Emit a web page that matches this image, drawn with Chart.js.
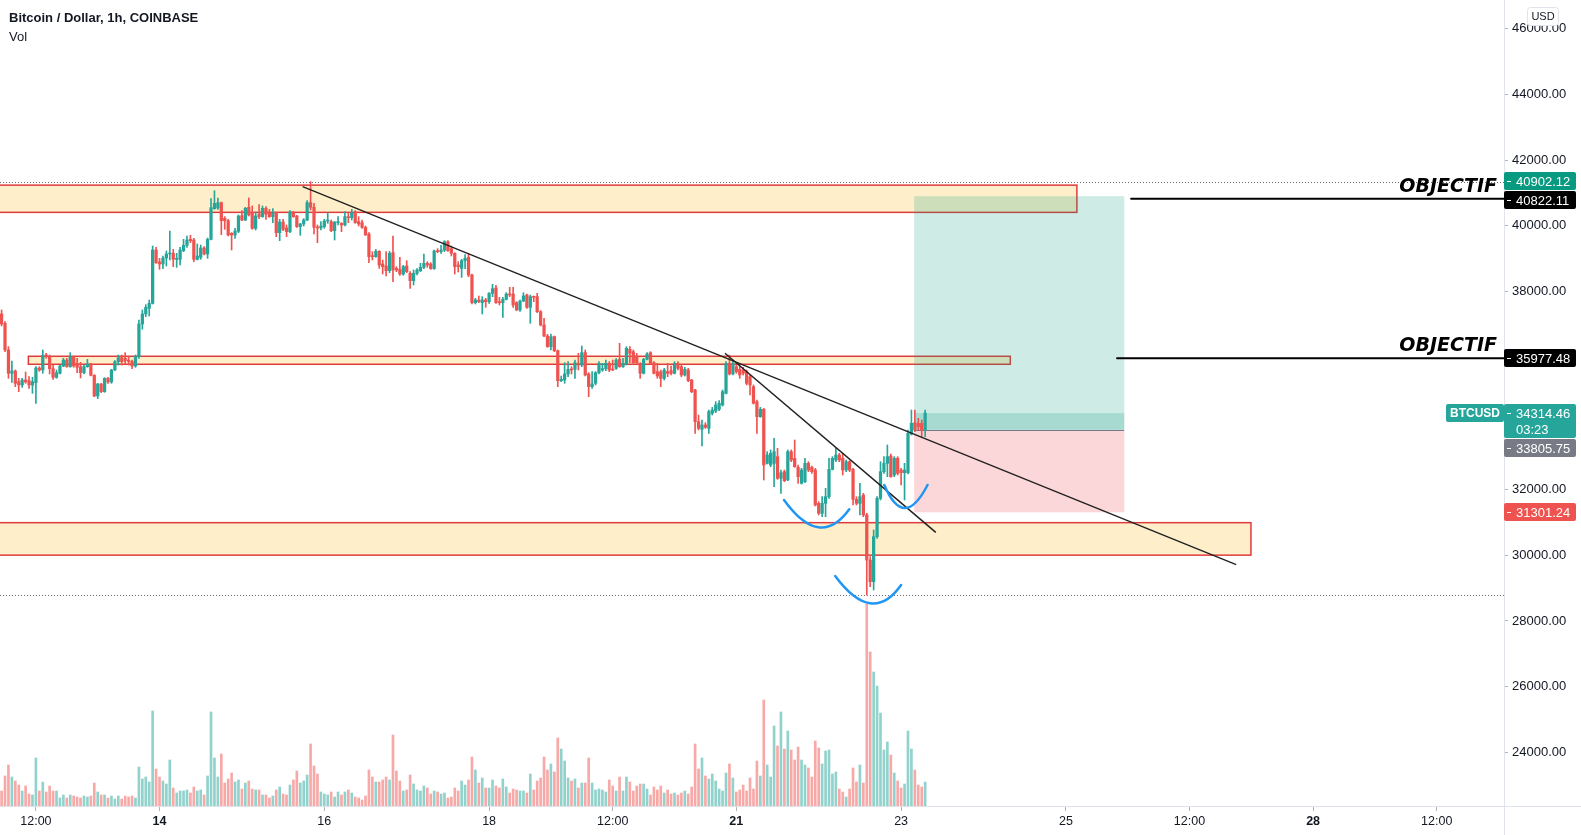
<!DOCTYPE html>
<html>
<head>
<meta charset="utf-8">
<script src="https://cdn.jsdelivr.net/npm/chart.js@4.4.0/dist/chart.umd.min.js"></script>
<style>
  html, body { margin: 0; padding: 0; background: #fff; overflow: hidden; }
  canvas { display: block; }
</style>
</head>
<body>
<canvas id="btc" width="1581" height="835"></canvas>
<script>
// hours counted from 14 Jan 00:00, one candle per hour
const startHour = -46;

const open = [
  37325,37041,36231,35523,35593,35269,35168,35320,35300,35168,
  35239,35684,35624,36079,36029,35664,35401,35523,35745,35927,
  35725,36029,35826,35725,35543,35725,35806,35462,34834,35198,
  34966,35371,35259,35624,35877,35998,35978,35907,35887,35745,
  36029,37021,37325,37497,37648,39268,38904,38843,39025,39147,
  39167,38985,38985,39248,39410,39592,39572,38985,39046,39329,
  39147,39592,40524,40544,40706,40230,40159,39775,39724,39835,
  40311,40179,40564,40402,39926,40362,40281,40534,40382,40281,
  40402,39795,40119,39936,39825,40402,40301,39977,40058,40179,
  40706,40564,39957,39936,39977,40149,
  40129,39855,40098,40078,40028,40281,40250,40433,40129,40098,
  39957,39754,39086,39066,39228,38843,38782,38640,39187,38711,
  38681,38539,38782,38560,38337,38560,38640,38742,38863,38843,
  38701,39248,39218,39268,39521,39309,39167,38813,38711,38944,
  39046,38509,37669,37750,37669,37750,37699,37952,38114,37699,
  37669,37770,37932,37932,37669,37446,37719,37901,37527,37851,
  37851,37395,36990,36656,36332,36636,36211,35300,35320,35502,
  35644,35644,35826,35775,36150,35502,35117,35219,35543,35624,
  35664,35826,35644,35674,35948,35725,35806,36251,36180,36029,
  35826,35523,35948,36150,35846,35573,
  35573,35370,35573,35603,35522,35826,35725,35471,35623,35319,
  35016,34054,33821,33953,33851,34307,34378,34428,34560,34915,
  35826,35502,35725,35643,35623,35573,35421,35117,34661,34206,
  34428,32788,32738,32788,32991,32333,32535,32282,33143,32940,
  32667,32181,32232,32788,32667,32586,31574,31270,31574,31776,
  32606,32890,33042,32940,32586,32839,32606,31695,31574,31827,
  31219,29852,29194,30561,31726,32535,32788,33011,32434,32940,
  32586,32505,32505,33679,34024,34004,34004,33801
];
const high = [
  37446,37092,36332,35897,35624,35371,35371,35563,35421,35401,
  35725,35725,36231,36130,36079,35775,35624,35775,35978,35978,
  36150,36049,35978,35856,35775,35948,35826,35482,35219,35219,
  35391,35401,35644,35907,36079,36079,36150,36029,35927,36079,
  37142,37446,37608,37750,39390,39349,39015,39086,39238,39845,
  39288,39167,39349,39592,39694,39714,39623,39450,39420,39369,
  39633,40827,41070,40848,40726,40281,40200,39795,39926,40331,
  40463,40564,40848,40605,40422,40645,40605,40584,40503,40524,
  40422,40200,40200,40028,40463,40443,40321,40078,40220,40767,
  41344,40686,40028,40129,40200,40402,
  40179,40129,40281,40098,40433,40402,40503,40463,40281,40179,
  39997,39795,39218,39288,39248,38965,39218,39228,39694,38762,
  39046,38803,38944,38610,38661,38701,38863,39147,38914,38884,
  39268,39309,39410,39552,39552,39390,39187,38914,38985,39126,
  39147,38539,37800,37871,37851,37800,37972,38225,38195,37831,
  37831,37972,38134,38134,37699,37750,37972,37932,37901,37871,
  37952,37426,37193,36707,36717,36656,36231,35441,35846,35877,
  35725,35927,36130,36352,36231,35543,35573,35573,35877,35826,
  35927,35877,35927,35968,36434,35978,36332,36332,36231,36130,
  35846,35978,36150,36180,35877,35826,
  35623,35674,35826,35745,35876,35876,35775,35704,35674,35340,
  35036,34256,34105,34024,34408,34489,34661,34692,35016,35876,
  36079,35927,35826,35745,35704,35623,35471,35168,34712,34489,
  34459,33143,33194,33548,33244,32586,32586,33194,33194,33497,
  32738,32636,32940,32839,32707,32636,31624,31776,32029,32940,
  32991,33244,33092,33092,32890,32869,32636,31776,32181,31877,
  31270,29954,30764,31776,32839,32991,33345,33072,32991,32991,
  32636,32788,33801,34408,34408,34155,34105,34408
];
const low = [
  36960,36180,35371,35249,35117,34966,35097,35219,35067,34915,
  34611,35583,35523,35978,35502,35340,35371,35502,35725,35705,
  35705,35705,35543,35381,35502,35705,35441,34814,34753,34935,
  34945,35219,35219,35603,35775,35775,35806,35775,35664,35705,
  35978,36859,37243,37264,37628,38863,38681,38701,38782,38965,
  38762,38742,38813,39218,39349,39491,38914,38965,38985,39116,
  39015,39572,40503,40503,39734,39896,39694,39268,39623,39795,
  40159,40159,40301,39896,39876,40220,40260,40200,40260,40098,
  39673,39552,39855,39673,39795,40260,39957,39714,39997,40159,
  40483,39754,39491,39876,39926,40078,
  39825,39572,40028,39825,39997,40098,40179,40078,39997,39926,
  39714,38884,38965,39046,38711,38540,38479,38580,38306,38610,
  38499,38499,38580,38104,38205,38509,38610,38701,38742,38681,
  38681,39187,39167,39218,39228,39086,38540,38600,38438,38701,
  38458,37628,37628,37669,37325,37527,37648,37851,37648,37598,
  37223,37750,37851,37527,37426,37406,37699,37497,37041,37699,
  37365,36960,36636,36312,36231,36180,35117,35269,35219,35421,
  35502,35371,35624,35725,35441,34814,35067,35168,35502,35583,
  35603,35573,35603,35644,35705,35705,35775,35846,35826,35806,
  35371,35502,35927,35806,35502,35371,
  35117,35320,35421,35471,35502,35623,35421,35441,35269,34935,
  33700,33801,33315,33851,33700,34257,34327,34388,34530,34894,
  35471,35471,35522,35370,35471,35168,34864,34590,33700,34186,
  32282,32768,32687,32080,32302,31877,32232,32262,32839,32667,
  32181,32161,32201,32535,32485,31493,31219,31169,31169,31726,
  32586,32839,32839,32434,32535,32535,31523,31523,31219,31169,
  28789,29042,28941,30510,31675,32485,32383,32363,32383,32434,
  32130,31675,32464,33649,33750,33801,33598,33598
];
const close = [
  37021,36231,35523,35593,35219,35168,35320,35259,35168,35269,
  35684,35624,36069,36029,35664,35401,35543,35745,35927,35725,
  36029,35745,35705,35543,35725,35806,35462,34834,35198,34966,
  35371,35259,35624,35877,35998,35877,35907,35887,35745,36029,
  37021,37325,37527,37648,39268,38883,38843,39025,39147,39167,
  38985,39015,39268,39410,39572,39552,38985,39086,39329,39147,
  39592,40554,40686,40706,40159,40159,39724,39724,39845,40301,
  40179,40534,40331,39926,40301,40281,40534,40352,40281,40402,
  39795,40119,39896,39825,40422,40281,39977,40058,40179,40706,
  40564,39957,39936,39997,40149,40159,
  39855,40119,40129,40028,40281,40250,40402,40098,40058,39957,
  39724,39066,39066,39228,38813,38762,38640,39167,38661,38661,
  38539,38762,38610,38337,38560,38661,38742,38863,38813,38701,
  39238,39218,39268,39521,39248,39167,38762,38762,38944,39015,
  38509,37669,37750,37699,37750,37699,37952,38094,37669,37669,
  37770,37932,37901,37598,37446,37719,37871,37527,37851,37831,
  37395,36990,36656,36332,36636,36211,35300,35340,35502,35644,
  35624,35846,35775,36150,35472,35117,35198,35543,35826,35664,
  35826,35624,35624,35927,35725,35826,36282,36130,35846,35846,
  35523,35948,36110,35826,35523,35441,
  35370,35623,35522,35522,35826,35674,35471,35643,35299,34965,
  34054,33851,33953,33882,34358,34408,34560,34611,34965,35826,
  35502,35826,35573,35471,35522,35218,35168,34611,34206,34428,
  32738,33042,33092,33143,32333,32505,32262,33143,32890,32687,
  32383,32586,32788,32586,32535,31523,31270,31574,31776,32606,
  32940,33042,32890,32586,32839,32586,31695,31574,31776,31219,
  29852,29194,30561,31726,32535,32788,32991,32383,32940,32485,
  32505,32586,33700,34004,33801,33902,33801,34314.46
];
const volume = [
  15,30,41,29,25,21,15,20,12,11,
  48,15,24,14,20,15,15,8,11,8,
  11,10,9,8,10,9,10,23,14,11,
  11,8,10,7,10,7,10,9,10,8,
  39,27,29,24,95,37,29,25,22,46,
  18,13,15,15,16,13,19,15,16,11,
  30,94,48,29,52,23,27,33,24,26,
  17,23,25,17,16,16,11,11,8,10,
  16,19,12,11,21,26,35,23,25,31,
  62,40,32,14,12,11,14,9,14,11,
  14,16,13,9,8,6,10,36,29,24,
  24,26,29,26,71,35,25,15,16,31,
  22,16,15,20,18,12,15,14,12,13,
  8,9,18,15,
  25,21,26,49,36,23,28,18,18,26,
  20,18,27,19,13,17,16,15,15,13,
  32,16,25,28,49,36,42,34,68,57,
  45,28,25,27,18,23,23,48,23,16,
  17,16,14,26,20,15,29,15,29,24,
  15,20,22,22,17,11,19,16,20,13,
  16,12,13,11,13,15,12,19,62,37,
  48,30,27,32,25,17,15,33,42,28,
  14,16,21,15,28,17,45,30,106,41,
  29,80,60,94,57,75,56,46,59,46,
  41,38,29,65,58,42,55,56,32,34,
  17,14,9,17,38,24,41,23,202,154,
  134,120,93,56,64,51,33,25,18,22,
  75,57,36,21,19,24
];

// axes
const hourRange = [-46.46, 391.6];
const priceRange = [22381, 46861];
const volumeMax = 806;
const xTickHours = [-36, 0, 48, 96, 132, 168, 216, 264, 300, 336, 372];
const xTickLabels = ["12:00", "14", "16", "18", "12:00", "21", "23", "25", "12:00", "28", "12:00"];
const boldXTicks = ["14", "21", "28"];
const priceTicks = [24000, 26000, 28000, 30000, 32000, 38000, 40000, 42000, 44000, 46000];

// drawings, in hours / price
const zones = [
  { from: -60, to: 267.2, top: 41238, bottom: 40411 },
  { from: -38.2, to: 247.8, top: 36040, bottom: 35797 },
  { from: -60, to: 317.9, top: 30986, bottom: 30000 }
];
const trendLines = [
  [[41.7, 41192], [313.6, 29713]],
  [[164.7, 36131], [226.1, 30691]]
];
const arcs = [
  [[181.9, 31675], [191.9, 30846], [200.9, 31392]],
  [[196.8, 29367], [207.0, 28538], [216.0, 29094]],
  [[211.1, 32131], [217.1, 31432], [223.7, 32131]]
];
const position = { from: 219.8, to: 281.0, entry: 33805.75, target: 40902.12, stop: 31301.24 };
const lastPrice = 34314.46;
const objectifs = [
  { price: 40822.11, from: 283.0 },
  { price: 35977.48, from: 278.9 }
];
const axisLabels = [
  { text: "40902.12", price: 40902.12, bg: "#089981", shift: -15 },
  { text: "40822.11", price: 40822.11, bg: "#000000", shift: 1 },
  { text: "35977.48", price: 35977.48, bg: "#000000", shift: 0 },
  { text: "33805.75", price: 33805.75, bg: "#787b86", shift: 18 },
  { text: "31301.24", price: 31301.24, bg: "#ef5350", shift: 0 }
];

const FONT = '"Liberation Sans", Arial, sans-serif';
Chart.defaults.font.family = FONT;

const hours = close.map((c, i) => startHour + i);
const rising = close.map((c, i) => c >= open[i]);
const candleColor = rising.map(r => r ? "#26a69a" : "#ef5350");
const volColor = rising.map(r => r ? "rgba(38,166,154,0.5)" : "rgba(239,83,80,0.5)");

function box(ctx, x, y, w, h, r) {
  ctx.beginPath();
  ctx.moveTo(x + r, y);
  ctx.arcTo(x + w, y, x + w, y + h, r);
  ctx.arcTo(x + w, y + h, x, y + h, r);
  ctx.arcTo(x, y + h, x, y, r);
  ctx.arcTo(x, y, x + w, y, r);
  ctx.closePath();
}

const drawings = {
  id: "drawings",
  beforeDatasetsDraw(chart) {
    const { ctx, chartArea: a } = chart;
    const X = v => chart.scales.x.getPixelForValue(v);
    const Y = v => chart.scales.y.getPixelForValue(v);
    ctx.save();
    ctx.beginPath();
    ctx.rect(a.left, a.top, a.right - a.left, a.bottom - a.top);
    ctx.clip();

    // high / low of the visible range
    ctx.strokeStyle = "#6a6d78";
    ctx.lineWidth = 1;
    ctx.setLineDash([1, 2]);
    [Math.max(...high), Math.min(...low)].forEach(p => {
      const y = Math.round(Y(p)) + 0.5;
      ctx.beginPath();
      ctx.moveTo(a.left, y);
      ctx.lineTo(a.right, y);
      ctx.stroke();
    });
    ctx.setLineDash([]);

    // zones
    zones.forEach(z => {
      const x0 = X(z.from), x1 = X(z.to), y0 = Y(z.top), y1 = Y(z.bottom);
      ctx.fillStyle = "rgba(251,192,45,0.25)";
      ctx.fillRect(x0, y0, x1 - x0, y1 - y0);
      ctx.strokeStyle = "#e03b3b";
      ctx.lineWidth = 1.5;
      ctx.strokeRect(x0, y0, x1 - x0, y1 - y0);
    });

    // long position
    const p0 = X(position.from), p1 = X(position.to);
    const yT = Y(position.target), yE = Y(position.entry), yS = Y(position.stop), yC = Y(lastPrice);
    ctx.fillStyle = "rgba(8,153,129,0.2)";
    ctx.fillRect(p0, yT, p1 - p0, yE - yT);
    ctx.fillRect(p0, yC, p1 - p0, yE - yC);
    ctx.fillStyle = "rgba(242,54,69,0.2)";
    ctx.fillRect(p0, yE, p1 - p0, yS - yE);
    ctx.strokeStyle = "#787b86";
    ctx.lineWidth = 1;
    ctx.beginPath();
    ctx.moveTo(p0, Math.round(yE) + 0.5);
    ctx.lineTo(p1, Math.round(yE) + 0.5);
    ctx.stroke();
    ctx.restore();
  },

  afterDatasetsDraw(chart) {
    const { ctx, chartArea: a } = chart;
    const X = v => chart.scales.x.getPixelForValue(v);
    const Y = v => chart.scales.y.getPixelForValue(v);
    ctx.save();
    ctx.beginPath();
    ctx.rect(a.left, a.top, a.right - a.left, a.bottom - a.top);
    ctx.clip();

    // trend lines
    ctx.strokeStyle = "#222";
    ctx.lineWidth = 1.5;
    trendLines.forEach(([s, e]) => {
      ctx.beginPath();
      ctx.moveTo(X(s[0]), Y(s[1]));
      ctx.lineTo(X(e[0]), Y(e[1]));
      ctx.stroke();
    });

    // hand drawn arcs
    ctx.strokeStyle = "#2196f3";
    ctx.lineWidth = 2.5;
    ctx.lineCap = "round";
    arcs.forEach(([s, m, e]) => {
      const sx = X(s[0]), sy = Y(s[1]), mx = X(m[0]), my = Y(m[1]), ex = X(e[0]), ey = Y(e[1]);
      const cx = 2 * mx - (sx + ex) / 2, cy = 2 * my - (sy + ey) / 2;
      ctx.beginPath();
      ctx.moveTo(sx, sy);
      ctx.quadraticCurveTo(cx, cy, ex, ey);
      ctx.stroke();
    });

    // objectives
    objectifs.forEach(o => {
      const y = Y(o.price);
      ctx.strokeStyle = "#000";
      ctx.lineWidth = 2;
      ctx.beginPath();
      ctx.moveTo(X(o.from), y);
      ctx.lineTo(a.right, y);
      ctx.stroke();
      ctx.fillStyle = "#000";
      ctx.font = 'italic bold 19px "DejaVu Sans"';
      ctx.textAlign = "right";
      ctx.textBaseline = "alphabetic";
      ctx.fillText("OBJECTIF", a.right - 7, y - 7);
    });
    ctx.restore();
  },

  afterDraw(chart) {
    const { ctx, chartArea: a } = chart;
    const Y = v => chart.scales.y.getPixelForValue(v);
    ctx.save();

    // axis separators
    ctx.strokeStyle = "#e0e3eb";
    ctx.lineWidth = 1;
    ctx.beginPath();
    ctx.moveTo(a.right + 0.5, 0);
    ctx.lineTo(a.right + 0.5, 835);
    ctx.moveTo(0, a.bottom + 0.5);
    ctx.lineTo(1581, a.bottom + 0.5);
    ctx.stroke();

    // price boxes on the axis
    ctx.font = "13px " + FONT;
    ctx.textBaseline = "middle";
    ctx.textAlign = "left";
    const bx = a.right, bw = 72;
    axisLabels.forEach(l => {
      const yc = Math.round(Y(l.price) + l.shift);
      ctx.fillStyle = l.bg;
      box(ctx, bx, yc - 9, bw, 18, 2);
      ctx.fill();
      ctx.fillStyle = "#fff";
      ctx.fillRect(bx + 3, yc, 4, 1);
      ctx.fillText(l.text, bx + 12, yc + 1);
    });

    // last price
    const yl = Math.round(Y(lastPrice));
    ctx.fillStyle = "#26a69a";
    box(ctx, bx, yl - 9, bw, 34, 2);
    ctx.fill();
    box(ctx, 1446, yl - 9, bx - 1446, 18, 2);
    ctx.fill();
    ctx.fillStyle = "#fff";
    ctx.fillRect(bx + 3, yl, 4, 1);
    ctx.fillText(lastPrice.toFixed(2), bx + 12, yl + 1);
    ctx.fillText("03:23", bx + 12, yl + 17);
    ctx.font = "bold 12px " + FONT;
    ctx.textAlign = "center";
    ctx.fillText("BTCUSD", (1446 + bx) / 2, yl + 1);

    // USD button
    ctx.fillStyle = "#fff";
    box(ctx, 1527.5, 7.5, 31, 18, 3);
    ctx.fill();
    ctx.strokeStyle = "#e0e3eb";
    ctx.stroke();
    ctx.fillStyle = "#131722";
    ctx.font = "11px " + FONT;
    ctx.fillText("USD", 1543, 17);

    // legend
    ctx.textAlign = "left";
    ctx.textBaseline = "alphabetic";
    ctx.fillStyle = "#131722";
    ctx.font = "bold 13px " + FONT;
    ctx.fillText("Bitcoin / Dollar, 1h, COINBASE", 9, 22);
    ctx.font = "13px " + FONT;
    ctx.fillText("Vol", 9, 41);
    ctx.restore();
  }
};

new Chart(document.getElementById("btc"), {
  type: "bar",
  data: {
    datasets: [
      {
        label: "Vol",
        data: hours.map((h, i) => ({ x: h, y: volume[i] })),
        yAxisID: "yv",
        backgroundColor: volColor,
        barThickness: 2,
        grouped: false,
        order: 3
      },
      {
        label: "wick",
        data: hours.map((h, i) => ({ x: h, y: [low[i], high[i]] })),
        yAxisID: "y",
        backgroundColor: candleColor,
        barThickness: 1,
        grouped: false,
        order: 2
      },
      {
        label: "body",
        data: hours.map((h, i) => ({ x: h, y: [open[i], close[i]] })),
        yAxisID: "y",
        backgroundColor: candleColor,
        barThickness: 2.6,
        minBarLength: 1,
        grouped: false,
        order: 1
      }
    ]
  },
  options: {
    responsive: false,
    devicePixelRatio: 1,
    animation: false,
    events: [],
    layout: { padding: 0 },
    plugins: { legend: { display: false }, tooltip: { enabled: false } },
    scales: {
      x: {
        type: "linear",
        min: hourRange[0],
        max: hourRange[1],
        offset: false,
        afterBuildTicks: s => { s.ticks = xTickHours.map(v => ({ value: v })); },
        afterFit: s => { s.height = 29; s.paddingLeft = 0; s.paddingRight = 0; },
        ticks: {
          autoSkip: false,
          maxRotation: 0,
          padding: 3,
          color: "#131722",
          font: c => ({ size: 12.5, weight: boldXTicks.includes(xTickLabels[c.index]) ? "bold" : "normal" }),
          callback: (v, i) => xTickLabels[i]
        },
        grid: { offset: false, drawOnChartArea: false, drawTicks: true, tickLength: 5, color: "#b2b5be" },
        border: { display: true, color: "#e0e3eb" }
      },
      y: {
        type: "linear",
        position: "right",
        min: priceRange[0],
        max: priceRange[1],
        afterBuildTicks: s => { s.ticks = priceTicks.map(v => ({ value: v })); },
        afterFit: s => { s.width = 77; s.paddingTop = 0; s.paddingBottom = 0; },
        ticks: {
          autoSkip: false,
          padding: 4,
          color: "#131722",
          font: { size: 13 },
          callback: v => Number(v).toFixed(2)
        },
        grid: { drawOnChartArea: false, drawTicks: true, tickLength: 4, color: "#b2b5be" },
        border: { display: true, color: "#e0e3eb" }
      },
      yv: {
        type: "linear",
        display: false,
        min: 0,
        max: volumeMax
      }
    }
  },
  plugins: [drawings]
});
</script>
</body>
</html>
